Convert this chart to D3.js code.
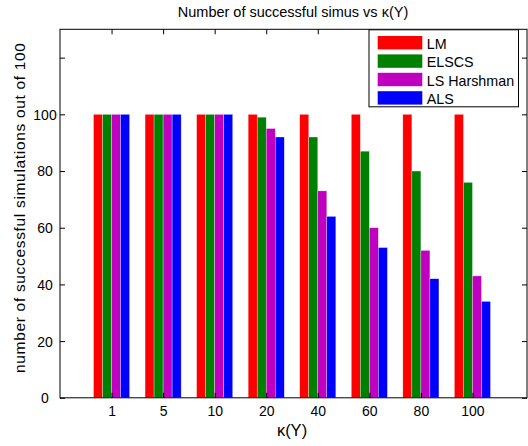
<!DOCTYPE html>
<html>
<head>
<meta charset="utf-8">
<script src="https://cdn.jsdelivr.net/npm/d3@7"></script>
<style>
  html, body { margin: 0; padding: 0; background: #fff; }
  svg { display: block; font-family: "Liberation Sans", Arial, Helvetica, sans-serif; }
</style>
</head>
<body>
<svg id="chart" width="528" height="446"></svg>
<script>
// Condition numbers on the x axis
const categories = ["1", "5", "10", "20", "40", "60", "80", "100"];
// Successful runs (out of 100) per algorithm
const seriesNames = ["LM", "ELSCS", "LS Harshman", "ALS"];
const lmValues      = [100, 100, 100, 100, 100, 100, 100, 100];
const elscsValues   = [100, 100, 100,  99,  92,  87,  80,  76];
const harshValues   = [100, 100, 100,  95,  73,  60,  52,  43];
const alsValues     = [100, 100, 100,  92,  64,  53,  42,  34];
const seriesColors  = ["#ff0000", "#008000", "#bf00bf", "#0000ff"];
const yTicks = [0, 20, 40, 60, 80, 100, 120];
const yTickLabels = ["0", "20", "40", "60", "80", "100", ""];

const series = [lmValues, elscsValues, harshValues, alsValues];

const svg = d3.select("#chart");
const plotL = 60, plotR = 527, plotT = 29.3, plotB = 397.8;

const x = d3.scaleLinear().domain([0, 9]).range([plotL, 524]);
const y = d3.scaleLinear().domain([0, 130]).range([plotB, plotT]);

const barW = 0.175; // in category units

// Bars
const groups = svg.append("g");
series.forEach((vals, s) => {
  groups.selectAll(null)
    .data(vals)
    .enter().append("rect")
    .attr("x", (d, i) => x(i + 1 + (s - 2) * barW))
    .attr("width", x(barW) - x(0))
    .attr("y", d => y(d))
    .attr("height", d => y(0) - y(d))
    .attr("fill", seriesColors[s])
    .attr("stroke", "#ffffff")
    .attr("stroke-opacity", 0.6)
    .attr("stroke-width", 0.5);
});

// Axes with inward ticks on all four sides
const tickLen = 5;
const xAxisB = d3.axisBottom(x)
  .tickValues(d3.range(1, categories.length + 1))
  .tickFormat(i => categories[i - 1])
  .tickSizeInner(-tickLen).tickSizeOuter(0);
const xAxisT = d3.axisTop(x)
  .tickValues(d3.range(1, categories.length + 1))
  .tickFormat("")
  .tickSizeInner(-tickLen).tickSizeOuter(0);
const yAxisL = d3.axisLeft(y)
  .tickValues(yTicks)
  .tickFormat((d, i) => yTickLabels[i])
  .tickSizeInner(-tickLen).tickSizeOuter(0);
const yAxisR = d3.axisRight(y)
  .tickValues(yTicks)
  .tickFormat("")
  .tickSizeInner(-tickLen).tickSizeOuter(0);

const gB = svg.append("g").attr("transform", `translate(0,${plotB})`).call(xAxisB);
const gT = svg.append("g").attr("transform", `translate(0,${plotT})`).call(xAxisT);
const gL = svg.append("g").attr("transform", `translate(${plotL},0)`).call(yAxisL);
const gR = svg.append("g").attr("transform", `translate(${plotR},0)`).call(yAxisR);

[gB, gT, gL, gR].forEach(g => {
  g.select(".domain").remove();
  g.selectAll(".tick line").attr("stroke", "#000");
  g.selectAll("text").attr("fill", "#000").style("font-size", "14px")
    .style("font-family", "'Liberation Sans', Arial, sans-serif");
});
gB.selectAll(".tick text").attr("dy", null).attr("y", 18.5);
gL.selectAll(".tick text").attr("text-anchor", "middle").attr("x", -15).attr("dy", "0.35em");

// Axes frame
svg.append("rect")
  .attr("x", plotL).attr("y", plotT)
  .attr("width", plotR - plotL).attr("height", plotB - plotT)
  .attr("fill", "none").attr("stroke", "#000").attr("stroke-width", 1);

// Title and axis labels
svg.append("text")
  .attr("x", 293).attr("y", 17)
  .attr("text-anchor", "middle")
  .style("font-size", "14.5px")
  .text("Number of successful simus vs \u03BA(Y)");

svg.append("text")
  .attr("x", 292).attr("y", 436)
  .attr("text-anchor", "middle")
  .style("font-size", "16.5px")
  .text("\u03BA(Y)");

svg.append("text")
  .attr("transform", "translate(25,208) rotate(-90)")
  .attr("text-anchor", "middle")
  .style("font-size", "15.5px")
  .attr("textLength", 330)
  .attr("lengthAdjust", "spacing")
  .text("number of successful simulations out of 100");

// Legend
const lg = svg.append("g");
lg.append("rect")
  .attr("x", 369).attr("y", plotT + 0.5)
  .attr("width", 149.5).attr("height", 77)
  .attr("fill", "#fff").attr("stroke", "#000").attr("stroke-width", 1);
seriesNames.forEach((name, s) => {
  const cy = 42.7 + s * 18.4;
  lg.append("rect")
    .attr("x", 377.7).attr("y", cy - 6.7)
    .attr("width", 44.6).attr("height", 13.4)
    .attr("fill", seriesColors[s]);
  lg.append("text")
    .attr("x", 426.7).attr("y", cy + 6)
    .style("font-size", "14.3px")
    .text(name);
});
</script>
</body>
</html>
